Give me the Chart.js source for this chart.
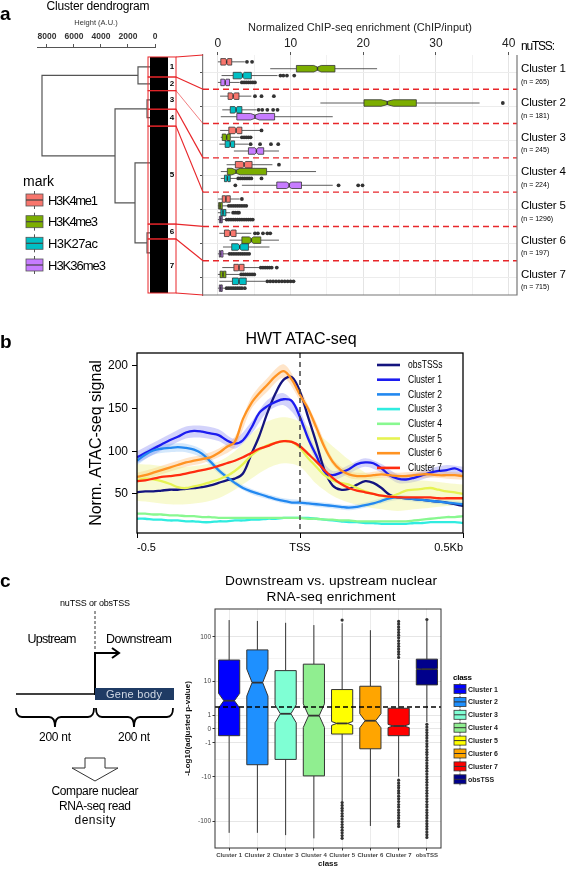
<!DOCTYPE html>
<html>
<head>
<meta charset="utf-8">
<script src="https://cdn.jsdelivr.net/npm/chart.js@4.4.0/dist/chart.umd.min.js"></script>
<style>
body { margin: 0; background: #fff; }
#page { position: relative; width: 567px; height: 869px; overflow: hidden; font-family: "Liberation Sans", Arial, sans-serif; }
.box { position: absolute; }
#deco { position: absolute; left: 0; top: 0; z-index: 2; }
</style>
</head>
<body>
<div id="page">
  <div class="box" style="left:0;top:0;width:190px;height:300px"><canvas id="dendro"></canvas></div>
  <div class="box" style="left:190px;top:0;width:377px;height:300px"><canvas id="chip"></canvas></div>
  <div class="box" style="left:60px;top:330px;width:420px;height:225px"><canvas id="atac"></canvas></div>
  <div class="box" style="left:170px;top:600px;width:397px;height:269px"><canvas id="rna"></canvas></div>
  <svg id="deco" width="567" height="869" font-family="Liberation Sans, Arial, sans-serif">
    <text x="0" y="20" font-size="19" font-weight="bold">a</text>
    <text x="98" y="10" font-size="12" text-anchor="middle" textLength="103">Cluster dendrogram</text>
    <text x="23" y="186" font-size="14">mark</text>
    <text x="0" y="348" font-size="19" font-weight="bold">b</text>
    <text x="301" y="344" font-size="16" text-anchor="middle">HWT ATAC-seq</text>
    <text x="0" y="587" font-size="19" font-weight="bold">c</text>
    <!-- schematic -->
    <text x="95" y="606" font-size="9" text-anchor="middle" textLength="70">nuTSS or obsTSS</text>
    <line x1="95" y1="611" x2="95" y2="650" stroke="#333" stroke-width="1" stroke-dasharray="3,2"/>
    <text x="52" y="643" font-size="12.5" text-anchor="middle" textLength="49">Upstream</text>
    <text x="139" y="643" font-size="12.5" text-anchor="middle" textLength="66">Downstream</text>
    <line x1="16" y1="694" x2="95" y2="694" stroke="#000" stroke-width="1.5"/>
    <polyline points="95,695 95,653 118,653" fill="none" stroke="#000" stroke-width="2"/>
    <polyline points="112,648 119,653 112,658" fill="none" stroke="#000" stroke-width="2"/>
    <rect x="95" y="688" width="79" height="12" fill="#1f3b64"/>
    <text x="134" y="698" font-size="11" text-anchor="middle" fill="#d0d8e4" textLength="56">Gene body</text>
    <path d="M16,708 Q16,717 22,717 L49,717 Q55,717 55,727 Q55,717 61,717 L88,717 Q94,717 94,708" fill="none" stroke="#000" stroke-width="1.8"/>
    <path d="M96,708 Q96,717 102,717 L128,717 Q134,717 134,727 Q134,717 140,717 L167,717 Q173,717 173,708" fill="none" stroke="#000" stroke-width="1.8"/>
    <text x="55" y="741" font-size="12" text-anchor="middle" textLength="32">200 nt</text>
    <text x="134" y="741" font-size="12" text-anchor="middle" textLength="32">200 nt</text>
    <polygon points="85,758 105,758 105,768 118,768 95,781 72,768 85,768" fill="#fff" stroke="#333" stroke-width="1"/>
    <text x="95" y="795" font-size="12" text-anchor="middle" textLength="87">Compare nuclear</text>
    <text x="95" y="810" font-size="12" text-anchor="middle" textLength="72">RNA-seq read</text>
    <text x="95" y="824" font-size="12" text-anchor="middle" textLength="41">density</text>
    <text x="331" y="585" font-size="13.7" text-anchor="middle" textLength="212">Downstream vs. upstream nuclear</text>
    <text x="331" y="601" font-size="13.7" text-anchor="middle" textLength="129">RNA-seq enrichment</text>
    <g id="dyn"></g>
  </svg>
</div>
<script>
// ---------- data: panel a ----------
const clusterNames = ['Cluster 1', 'Cluster 2', 'Cluster 3', 'Cluster 4', 'Cluster 5', 'Cluster 6', 'Cluster 7'];
const clusterN = [265, 181, 245, 224, 1296, 197, 715];
const marks = ['H3K4me1', 'H3K4me3', 'H3K27ac', 'H3K36me3'];
const markColors = ['#f8766d', '#7cae00', '#00bfc4', '#c77cff'];

// dendrogram: heights (A.U.), leaf-order positions where each cluster joins the tree
const dendroTicks = [8000, 6000, 4000, 2000, 0];
const leafAttach = [132, 355, 568, 803, 1400, 2328, 2593];
const leafTop = 370;
const merges = [[-1, -2, 1260], [-3, -4, 590], [-6, -7, 590], [-5, 3, 1480], [2, 4, 2960], [1, 5, 8370]];

// ChIP enrichment boxes per cluster: [lowWhisker, q1, median, q3, highWhisker]
const chipMajor = [0, 10, 20, 30, 40];
const chipGrid = [0, 5, 10, 15, 20, 25, 30, 35, 40];
const k4me1Box = [[0,0.4,1.2,1.9,3.7],[0.3,1.4,2.1,2.9,4.6],[0.3,1.5,2.5,3.3,5.8],[1.2,2.4,3.6,4.7,7.5],[0,0.6,1.1,1.7,3.0],[0.2,0.9,1.7,2.5,4.6],[0.6,2.2,2.9,3.6,5.7]];
const k4me1Out = [[4.0,4.7],[5.1,6.0,7.7],[6.0],[8.4],[3.3],[5.1,5.5,6.2,6.8,7.2],[5.9,6.2,6.5,6.8,7.1,7.4,8.1]];
const k4me3Box = [[7.2,10.8,13.7,16.1,21.9],[14.1,20.1,23.3,27.3,36.0],[0.4,0.6,1.2,1.7,3.0],[0.4,1.3,2.5,6.7,13.5],[0,0.1,0.3,0.6,1.3],[1.6,3.3,4.6,5.9,8.4],[0,0.3,0.7,1.1,3.0]];
const k4me3Out = [[],[39.2],[3.3,3.6,3.9,4.2,4.5],[],[1.5,1.8,2.1,2.4,2.7,3.0,3.3,3.6,3.9],[],[3.2,3.5,3.8,4.1,4.4,4.7,5.0]];
const k27acBox = [[0.5,2.1,3.4,4.6,8.2],[0.6,1.7,2.5,3.3,5.3],[0.2,1.0,1.7,2.3,4.2],[0.4,0.9,1.3,1.7,2.6],[0,0.4,0.7,1.1,1.7],[0.7,1.9,3.0,4.2,7.1],[0.2,2.0,2.9,3.9,6.5]];
const k27acOut = [[8.6,9.0,9.5,10.5],[5.6,6.1,6.8,7.6,8.2],[4.5,5.8,7.3,8.3],[2.8,3.1,3.4,3.7,4.0,4.3,4.6,6.0],[2.1,2.4,2.7,2.9],[],[6.8,7.2,7.6,8.0,8.4,8.8,9.2,9.6,10.0,10.4]];
const k36me3Box = [[0,0.4,1.0,1.6,3.0],[0.4,2.6,5.1,7.8,15.8],[2.2,4.2,5.3,6.3,8.4],[3.3,8.1,9.8,11.5,15.8],[0,0.2,0.4,0.6,1.0],[0,0.2,0.4,0.7,1.4],[0,0.2,0.4,0.6,1.0]];
const k36me3Out = [[3.3,3.6,3.9,4.2,4.5,4.8,5.1],[],[],[2.4,16.6,19.3,19.9],[1.2,1.5,1.8,2.1,2.4,2.7,3.0,3.3,3.6,3.9,4.2,4.5,4.8],[1.6,1.9,2.2,2.5,2.8,3.1,3.4,3.7,4.0,4.3],[1.2,1.5,1.8,2.1,2.4,2.7,3.0,3.3,3.7]];

// ---------- data: panel b ----------
const atacLabels = ['obsTSSs', 'Cluster 1', 'Cluster 2', 'Cluster 3', 'Cluster 4', 'Cluster 5', 'Cluster 6', 'Cluster 7'];
const atacColors = ['#14147f', '#1c1cf0', '#2288f0', '#30ece0', '#88f890', '#e6f352', '#ff9322', '#ff2c10'];
const atacTicks = [-500, 0, 500];
const atacTickLabels = ['-0.5', 'TSS', '0.5Kb'];
const atacYTicks = [50, 100, 150, 200];
const atacPos = [-500,-475,-450,-425,-400,-375,-350,-325,-300,-275,-250,-225,-200,-175,-150,-125,-100,-75,-50,-25,0,25,50,75,100,125,150,175,200,225,250,275,300,325,350,375,400,425,450,475,500];
const obsTSSs = [52,53,53,54,55,55,56,57,58,60,63,66,68,74,96,118,145,168,184,187,170,140,110,78,60,55,56,61,65,63,57,49,46,45,44,43,42,41,40,38,36];
const cluster1 = [93,98,103,108,113,117,122,124,123,121,119,113,109,113,127,145,153,158,161,159,140,115,95,76,72,75,79,85,87,86,80,72,68,67,69,72,75,77,78,80,76];
const cluster2 = [89,96,101,103,104,105,104,102,97,88,78,70,63,57,53,50,47,44,42,40,40,39,38,37,36,35,34,35,37,39,42,45,46,45,44,43,42,41,40,39,38];
const cluster3 = [21,21,20,20,19,19,18,18,17,17,18,18,19,19,20,20,21,21,22,22,22,22,21,20,19,18,17,17,16,16,15,15,15,15,16,16,17,17,17,17,16];
const cluster4 = [27,27,26,26,25,25,24,24,23,23,22,22,22,22,22,22,22,22,22,22,22,21,21,20,20,19,19,18,18,18,18,18,18,18,19,20,21,22,23,23,24];
const cluster5 = [66,68,67,65,62,58,57,59,61,64,67,71,77,85,95,102,107,110,112,111,104,92,82,72,66,63,61,57,53,50,48,47,50,54,55,56,57,55,53,52,50];
const cluster6 = [70,72,75,78,81,84,87,89,91,93,98,105,111,138,156,168,178,188,194,184,166,150,128,105,88,78,73,71,71,72,73,72,71,71,72,73,73,72,72,72,71];
const cluster7 = [65,66,68,70,71,72,74,76,78,80,83,86,89,93,98,103,106,110,112,111,106,97,88,78,69,62,57,54,52,50,48,47,46,46,46,46,46,45,45,45,45];
const bandPos = [-500,-450,-400,-350,-300,-250,-200,-150,-100,-50,0,50,100,150,200,250,300,350,400,450,500];
const c1BandLo = [86,96,106,115,116,112,103,120,146,154,133,89,67,74,82,75,63,64,70,72,70];
const c1BandHi = [100,110,120,129,130,126,115,134,160,168,147,101,77,84,92,85,73,74,80,84,82];
const c2BandLo = [84,96,99,99,92,74,60,50,44,39,37,35,33,31,34,39,43,41,39,37,35];
const c2BandHi = [94,106,109,109,102,82,66,56,50,45,43,41,39,37,40,45,49,47,45,43,41];
const c5BandLo = [42,40,38,38,40,45,55,68,80,86,82,62,48,40,35,32,30,32,34,36,38];
const c5BandHi = [85,84,82,82,84,88,100,120,135,140,135,122,106,90,75,70,66,66,65,63,61];
const c6BandLo = [65,70,76,82,86,93,105,149,170,186,159,122,84,69,67,69,67,68,69,68,67];
const c6BandHi = [75,80,86,92,96,103,117,163,186,202,173,134,92,77,75,77,75,76,77,76,75];

// ---------- data: panel c ----------
const rnaClasses = ['Cluster 1', 'Cluster 2', 'Cluster 3', 'Cluster 4', 'Cluster 5', 'Cluster 6', 'Cluster 7', 'obsTSS'];
const rnaColors = ['#0000ff', '#1e90ff', '#7fffd4', '#90ee90', '#ffff00', '#ffa500', '#ff0000', '#00008b'];
const rnaN = [265, 181, 245, 224, 1296, 197, 715, 8000];
const rnaYTicks = [100, 10, 1, 0, -1, -10, -100];
const rnaThreshold = 2;
const rnaBox = [[-181,-0.40,3.12,30.6,233],[-181,-5.0,9.2,51.5,223],[-203,-3.6,1.14,17.6,203],[-239,-9.5,0.95,24.7,181],[-37,-0.29,0.32,6.2,199],[-128,-1.7,0.51,7.5,140],[-10,-0.40,0.16,1.82,30.6],[0.40,8.1,19,32,223]];
const rnaOut = [[],[],[],[],
  [233,-39,-45,-52,-59,-68,-78,-90,-104,-119,-137,-158,-181,-208,-239],
  [],
  [35,41,47,54,62,71,82,95,109,125,144,165,190,218,-12,-14,-16,-18,-21,-24,-28,-32,-37,-43,-49,-57,-65,-75,-86,-99,-114,-131],
  [240,0.26,0.1,-0.05,-0.2,-0.38,-0.58,-0.82,-1.1,-1.4,-1.8,-2.2,-2.6,-3.2,-3.8,-4.5,-5.3,-6.2,-7.3,-8.6,-10,-11.6,-13.5,-15.6,-18.1,-20.9,-24.1,-27.8,-32,-37,-43,-49,-57,-65,-75,-86,-99,-114,-131,-150,-173,-199,-228]];

// ---------- helpers ----------
const FONT = '"Liberation Sans", Arial, sans-serif';
Chart.defaults.font.family = FONT;
Chart.defaults.color = '#222';
const pts = (xs, ys) => xs.map((x, i) => ({ x, y: ys[i] }));
const tr = v => Math.sign(v) * Math.log10(1 + Math.abs(v)); // signed log scale of panel c

function drawBox(ctx, horiz, xs, ys, pos, half, st, n, fill, stroke, lw, tf) {
  const f = tf || (v => v);
  const [lo, q1, md, q3, hi] = st.map(f);
  const notch = 1.58 * (q3 - q1) / Math.sqrt(n);
  const nl = Math.max(q1, md - notch), nh = Math.min(q3, md + notch);
  const P = (v, o) => horiz ? [xs.getPixelForValue(v), ys.getPixelForValue(pos + o)]
                            : [xs.getPixelForValue(pos + o), ys.getPixelForValue(v)];
  ctx.strokeStyle = stroke;
  ctx.lineWidth = lw;
  ctx.beginPath();
  ctx.moveTo(...P(lo, 0)); ctx.lineTo(...P(q1, 0));
  ctx.moveTo(...P(q3, 0)); ctx.lineTo(...P(hi, 0));
  ctx.stroke();
  const poly = [[q1,-half],[nl,-half],[md,-half/2],[nh,-half],[q3,-half],[q3,half],[nh,half],[md,half/2],[nl,half],[q1,half]];
  ctx.beginPath();
  poly.forEach(([v, o], j) => { const [px, py] = P(v, o); j ? ctx.lineTo(px, py) : ctx.moveTo(px, py); });
  ctx.closePath();
  ctx.fillStyle = fill;
  ctx.fill();
  ctx.stroke();
  ctx.lineWidth = lw * 1.8;
  ctx.beginPath(); ctx.moveTo(...P(md, -half / 2)); ctx.lineTo(...P(md, half / 2)); ctx.stroke();
}

// ---------- panel a: dendrogram ----------
const leafTotal = clusterN.reduce((a, b) => a + b, 0);
const nodeY = [], nodeH = [];
const childPos = c => c < 0 ? [leafAttach[-c - 1], leafTop] : [nodeY[c - 1], nodeH[c - 1]];
const dendroSegs = merges.map(([a, b, h], i) => {
  const [ya, ha] = childPos(a), [yb, hb] = childPos(b);
  nodeY[i] = (ya + yb) / 2; nodeH[i] = h;
  return [{ x: ha, y: ya }, { x: h, y: ya }, { x: h, y: yb }, { x: hb, y: yb }];
});

const leavesPlugin = {
  id: 'leaves',
  afterDatasetsDraw(chart) {
    const { ctx, scales: { x, y } } = chart;
    const x0 = x.getPixelForValue(leafTop), x1 = x.getPixelForValue(0);
    ctx.save();
    ctx.fillStyle = '#000';
    ctx.fillRect(x0, y.getPixelForValue(0), x1 + 13 - x0, y.getPixelForValue(leafTotal) - y.getPixelForValue(0));
    let c = 0;
    clusterN.forEach((n, i) => {
      const t = y.getPixelForValue(c), b = y.getPixelForValue(c + n);
      ctx.strokeStyle = '#e8262a'; ctx.lineWidth = 1;
      ctx.strokeRect(x0 - 2, t, x1 + 21 - (x0 - 2), b - t);
      ctx.fillStyle = '#000'; ctx.font = 'bold 8px ' + FONT;
      ctx.textAlign = 'center'; ctx.textBaseline = 'middle';
      ctx.fillText(String(i + 1), x1 + 17, (t + b) / 2);
      c += n;
    });
    ctx.restore();
  }
};

const dendroChart = new Chart(document.getElementById('dendro'), {
  type: 'scatter',
  data: { datasets: dendroSegs.map(d => ({ data: d, showLine: true, borderColor: '#555', borderWidth: 1.2, pointRadius: 0 })) },
  options: {
    responsive: true, maintainAspectRatio: false, animation: false, events: [],
    plugins: { legend: { display: false }, tooltip: { enabled: false } },
    layout: { padding: { left: 37, right: 35, top: 18.5, bottom: 7 } },
    scales: {
      x: {
        type: 'linear', position: 'top', reverse: true, min: 0, max: 8740,
        afterBuildTicks: s => { s.ticks = dendroTicks.map(v => ({ value: v })); },
        afterFit: s => { s.height = 28.5; },
        ticks: { callback: v => String(v), font: { size: 8.5, weight: 'bold' }, color: '#333', padding: 2 },
        grid: { drawOnChartArea: false, tickLength: 3, color: '#555' },
        border: { color: '#555' },
        title: { display: true, text: 'Height (A.U.)', font: { size: 7.5 }, color: '#333', padding: { top: 0, bottom: 0 } }
      },
      y: { type: 'linear', display: false, reverse: true, min: -132, max: leafTotal }
    }
  },
  plugins: [leavesPlugin]
});

// ---------- panel a: ChIP boxplots ----------
const rowStep = 0.2;
const markBoxes = [k4me1Box, k4me3Box, k27acBox, k36me3Box];
const markOuts = [k4me1Out, k4me3Out, k27acOut, k36me3Out];
const chipOutPts = markOuts.flatMap((outs, k) => outs.flatMap((arr, i) => arr.map(v => ({ x: v, y: i + (k - 1.5) * rowStep }))));

const chipPlugin = {
  id: 'chipBoxes',
  beforeDatasetsDraw(chart) {
    const { ctx, chartArea: a, scales: { x, y } } = chart;
    ctx.save();
    markBoxes.forEach((boxes, k) => boxes.forEach((s, i) =>
      drawBox(ctx, true, x, y, i + (k - 1.5) * rowStep, 0.095, s, clusterN[i], markColors[k], '#333', 0.8)));
    ctx.strokeStyle = '#e8262a'; ctx.lineWidth = 1.4; ctx.setLineDash([6, 4]);
    for (let i = 0; i < clusterNames.length - 1; i++) {
      const py = y.getPixelForValue(i + 0.5);
      ctx.beginPath(); ctx.moveTo(a.left, py); ctx.lineTo(a.right, py); ctx.stroke();
    }
    ctx.setLineDash([]);
    ctx.strokeStyle = '#777'; ctx.lineWidth = 1.2;
    ctx.beginPath(); ctx.moveTo(a.left, a.bottom); ctx.lineTo(a.right, a.bottom); ctx.lineTo(a.right, a.top); ctx.stroke();
    ctx.restore();
  }
};

const chipChart = new Chart(document.getElementById('chip'), {
  type: 'scatter',
  data: { datasets: [{ data: chipOutPts, pointRadius: 1.9, backgroundColor: '#333', borderWidth: 0 }] },
  options: {
    responsive: true, maintainAspectRatio: false, animation: false, events: [],
    plugins: { legend: { display: false }, tooltip: { enabled: false } },
    layout: { padding: { left: 9, right: 50, top: 21, bottom: 5 } },
    scales: {
      x: {
        type: 'linear', position: 'top', min: -2.05, max: 41.15,
        afterBuildTicks: s => { s.ticks = chipGrid.map(v => ({ value: v })); },
        afterFit: s => { s.height = 34; },
        ticks: { callback: v => chipMajor.includes(v) ? String(v) : '', font: { size: 12 }, color: '#222', padding: 1, autoSkip: false, maxRotation: 0 },
        grid: {
          color: c => c.tick && chipMajor.includes(c.tick.value) ? '#e4e4e4' : '#f1f1f1',
          tickColor: c => c.tick && chipMajor.includes(c.tick.value) ? '#555' : 'rgba(0,0,0,0)',
          tickLength: 3
        },
        border: { display: false },
        title: { display: true, text: 'Normalized ChIP-seq enrichment (ChIP/input)', font: { size: 11 }, color: '#222', padding: { top: 0, bottom: 0 } }
      },
      y: {
        type: 'linear', reverse: true, min: -0.5, max: 6.5,
        afterBuildTicks: s => { s.ticks = clusterNames.map((c, i) => ({ value: i })); },
        afterFit: s => { s.width = 4; },
        ticks: { display: false },
        grid: { color: '#ececec', tickLength: 3, tickColor: '#555' },
        border: { color: '#777', width: 1.2 }
      }
    }
  },
  plugins: [chipPlugin]
});

// ---------- panel b: ATAC-seq profiles ----------
const atacSeries = [obsTSSs, cluster1, cluster2, cluster3, cluster4, cluster5, cluster6, cluster7];
const atacBands = [
  { lo: c5BandLo, hi: c5BandHi, color: 'rgba(236,242,120,0.35)' },
  { lo: c2BandLo, hi: c2BandHi, color: 'rgba(60,150,240,0.22)' },
  { lo: c6BandLo, hi: c6BandHi, color: 'rgba(255,160,60,0.28)' },
  { lo: c1BandLo, hi: c1BandHi, color: 'rgba(80,80,240,0.25)' }
];
const atacDatasets = [];
atacBands.forEach(b => {
  atacDatasets.push({ data: pts(bandPos, b.lo), borderWidth: 0, pointRadius: 0, fill: false, tension: 0.3, order: 20 });
  atacDatasets.push({ data: pts(bandPos, b.hi), borderWidth: 0, pointRadius: 0, fill: '-1', backgroundColor: b.color, tension: 0.3, order: 20 });
});
atacSeries.forEach((s, i) => atacDatasets.push({
  label: atacLabels[i], data: pts(atacPos, s), borderColor: atacColors[i], borderWidth: 2.3,
  pointRadius: 0, fill: false, tension: 0.35, order: 10 - i
}));

const atacPlugin = {
  id: 'atacExtras',
  afterDatasetsDraw(chart) {
    const { ctx, chartArea: a, scales: { x } } = chart;
    ctx.save();
    const tx = x.getPixelForValue(0);
    ctx.strokeStyle = '#444'; ctx.lineWidth = 1.5; ctx.setLineDash([5, 4]);
    ctx.beginPath(); ctx.moveTo(tx, a.top); ctx.lineTo(tx, a.bottom); ctx.stroke();
    ctx.setLineDash([]);
    ctx.strokeStyle = '#000'; ctx.lineWidth = 1.3;
    ctx.strokeRect(a.left, a.top, a.right - a.left, a.bottom - a.top);
    // legend
    const lx = a.left + 240, ly = a.top + 12, dy = 14.7;
    atacLabels.forEach((lab, i) => {
      const yy = ly + i * dy;
      ctx.strokeStyle = atacColors[i]; ctx.lineWidth = 2.6;
      ctx.beginPath(); ctx.moveTo(lx, yy); ctx.lineTo(lx + 23, yy); ctx.stroke();
      ctx.save();
      ctx.translate(lx + 31, yy); ctx.scale(0.74, 1);
      ctx.fillStyle = '#000'; ctx.font = '11.5px ' + FONT; ctx.textBaseline = 'middle';
      ctx.fillText(lab, 0, 0);
      ctx.restore();
    });
    ctx.restore();
  }
};

const atacChart = new Chart(document.getElementById('atac'), {
  type: 'line',
  data: { datasets: atacDatasets },
  options: {
    responsive: true, maintainAspectRatio: false, animation: false, events: [],
    plugins: { legend: { display: false }, tooltip: { enabled: false } },
    layout: { padding: { left: 27, right: 17, top: 23, bottom: 0 } },
    scales: {
      x: {
        type: 'linear', min: -500, max: 500,
        afterBuildTicks: s => { s.ticks = atacTicks.map(v => ({ value: v })); },
        afterFit: s => { s.height = 22; },
        ticks: { callback: (v, i) => atacTickLabels[i], font: { size: 11 }, color: '#000', padding: 3, align: 'inner', maxRotation: 0, autoSkip: false },
        grid: { drawOnChartArea: false, tickLength: 5, tickColor: '#000' },
        border: { display: false }
      },
      y: {
        type: 'linear', min: 4.3, max: 215.2,
        afterBuildTicks: s => { s.ticks = atacYTicks.map(v => ({ value: v })); },
        afterFit: s => { s.width = 50; },
        ticks: { font: { size: 12 }, color: '#000', padding: 4 },
        grid: { drawOnChartArea: false, tickLength: 5, tickColor: '#000' },
        border: { display: false },
        title: { display: true, text: 'Norm. ATAC-seq signal', font: { size: 16 }, color: '#000', padding: { top: 0, bottom: 0 } }
      }
    }
  },
  plugins: [atacPlugin]
});

// ---------- panel c: nuclear RNA-seq boxplots ----------
const rnaMinor = rnaYTicks.slice(1).map((v, i) => (tr(rnaYTicks[i]) + tr(v)) / 2);
const rnaOutPts = rnaOut.flatMap((arr, i) => arr.map(v => ({ x: i, y: tr(v) })));

const rnaPlugin = {
  id: 'rnaBoxes',
  beforeDatasetsDraw(chart) {
    const { ctx, scales: { x, y } } = chart;
    ctx.save();
    rnaBox.forEach((s, i) => drawBox(ctx, false, x, y, i, 0.375, s, rnaN[i], rnaColors[i], '#333', 1, tr));
    ctx.restore();
  },
  afterDatasetsDraw(chart) {
    const { ctx, chartArea: a, scales: { y } } = chart;
    ctx.save();
    const py = y.getPixelForValue(tr(rnaThreshold));
    ctx.strokeStyle = '#000'; ctx.lineWidth = 1.4; ctx.setLineDash([5, 3]);
    ctx.beginPath(); ctx.moveTo(a.left, py); ctx.lineTo(a.right, py); ctx.stroke();
    ctx.setLineDash([]);
    ctx.strokeStyle = '#333'; ctx.lineWidth = 1;
    ctx.strokeRect(a.left, a.top, a.right - a.left, a.bottom - a.top);
    ctx.restore();
  }
};

const rnaChart = new Chart(document.getElementById('rna'), {
  type: 'scatter',
  data: { datasets: [{ data: rnaOutPts, pointRadius: 1.6, backgroundColor: '#333', borderWidth: 0 }] },
  options: {
    responsive: true, maintainAspectRatio: false, animation: false, events: [],
    plugins: { legend: { display: false }, tooltip: { enabled: false } },
    layout: { padding: { left: 13, right: 126, top: 9, bottom: 0 } },
    scales: {
      x: {
        type: 'linear', min: -0.5, max: 7.5,
        afterBuildTicks: s => { s.ticks = rnaClasses.map((c, i) => ({ value: i })); },
        afterFit: s => { s.height = 21; },
        ticks: { callback: (v, i) => rnaClasses[i], font: { size: 6, weight: 'bold' }, color: '#444', padding: 1.5, autoSkip: false, maxRotation: 0 },
        grid: { color: '#ebebeb', tickLength: 2.5, tickColor: '#333' },
        border: { display: false },
        title: { display: true, text: 'class', font: { size: 8, weight: 'bold' }, color: '#111', padding: { top: 0, bottom: 0 } }
      },
      y: {
        type: 'linear', min: -2.59, max: 2.61,
        afterBuildTicks: s => {
          s.ticks = rnaYTicks.map(v => ({ value: tr(v), lab: String(v) })).concat(rnaMinor.map(t => ({ value: t, lab: '' })));
        },
        afterFit: s => { s.width = 32; },
        ticks: { callback: (v, i, t) => t[i].lab, font: { size: 6.5 }, color: '#444', padding: 1.5, autoSkip: false },
        grid: {
          color: c => c.tick && c.tick.lab ? '#e6e6e6' : '#f4f4f4',
          tickColor: c => c.tick && c.tick.lab ? '#333' : 'rgba(0,0,0,0)',
          tickLength: 2.5
        },
        border: { display: false },
        title: { display: true, text: '-Log10(adjusted p-value)', font: { size: 8, weight: 'bold' }, color: '#111', padding: { top: 0, bottom: 0 } }
      }
    }
  },
  plugins: [rnaPlugin]
});

// ---------- overlay: connectors, labels, legends ----------
const NS = 'http://www.w3.org/2000/svg';
const dyn = document.getElementById('dyn');
function el(tag, attrs, text) {
  const e = document.createElementNS(NS, tag);
  Object.entries(attrs).forEach(([k, v]) => e.setAttribute(k, v));
  if (text !== undefined) e.textContent = text;
  dyn.appendChild(e);
  return e;
}

// red connectors from dendrogram clusters to boxplot rows
{
  const dx = dendroChart.scales.x, dys = dendroChart.scales.y, cy = chipChart.scales.y;
  const xl = dx.getPixelForValue(0) + 21, xr = 190 + chipChart.chartArea.left;
  let cum = 0;
  for (let i = 0; i <= clusterN.length; i++) {
    el('line', { x1: xl, y1: dys.getPixelForValue(cum), x2: xr, y2: cy.getPixelForValue(i - 0.5), stroke: '#e8262a', 'stroke-width': i === 2 ? 0.6 : 1.2 });
    if (i < clusterN.length) cum += clusterN[i];
  }
  const rx = 190 + chipChart.chartArea.right + 4;
  el('text', { x: rx, y: 50, 'font-size': 12, textLength: 34 }, 'nuTSS:');
  clusterNames.forEach((nm, i) => {
    const yc = cy.getPixelForValue(i);
    el('text', { x: rx, y: yc, 'font-size': 11.5, textLength: 45 }, nm);
    el('text', { x: rx, y: yc + 11.5, 'font-size': 7 }, '(n = ' + clusterN[i] + ')');
  });
}

// mark legend (panel a)
const markRows = [200, 221.7, 243.3, 265];
marks.forEach((m, k) => {
  const c = markRows[k];
  el('line', { x1: 34.5, y1: c - 9, x2: 34.5, y2: c + 9, stroke: '#555', 'stroke-width': 1 });
  el('rect', { x: 26, y: c - 6, width: 17, height: 12, fill: markColors[k], stroke: '#555', 'stroke-width': 0.8 });
  el('line', { x1: 26, y1: c, x2: 43, y2: c, stroke: '#444', 'stroke-width': 1.2 });
  el('text', { x: 48, y: c + 4.5, 'font-size': 13, textLength: k === 3 ? 58 : 50 }, m);
});

// class legend (panel c)
el('text', { x: 453, y: 680, 'font-size': 8, 'font-weight': 'bold', textLength: 19 }, 'class');
rnaClasses.forEach((nm, i) => {
  const c = 689 + i * 12.9;
  el('line', { x1: 460, y1: c - 6, x2: 460, y2: c + 6, stroke: '#333', 'stroke-width': 0.8 });
  el('rect', { x: 454, y: c - 4.5, width: 12, height: 9, fill: rnaColors[i], stroke: '#333', 'stroke-width': 0.8 });
  el('line', { x1: 454, y1: c, x2: 466, y2: c, stroke: '#333', 'stroke-width': 1 });
  el('text', { x: 468, y: c + 2.5, 'font-size': 7, 'font-weight': 'bold', fill: '#222' }, nm);
});
</script>
</body>
</html>
